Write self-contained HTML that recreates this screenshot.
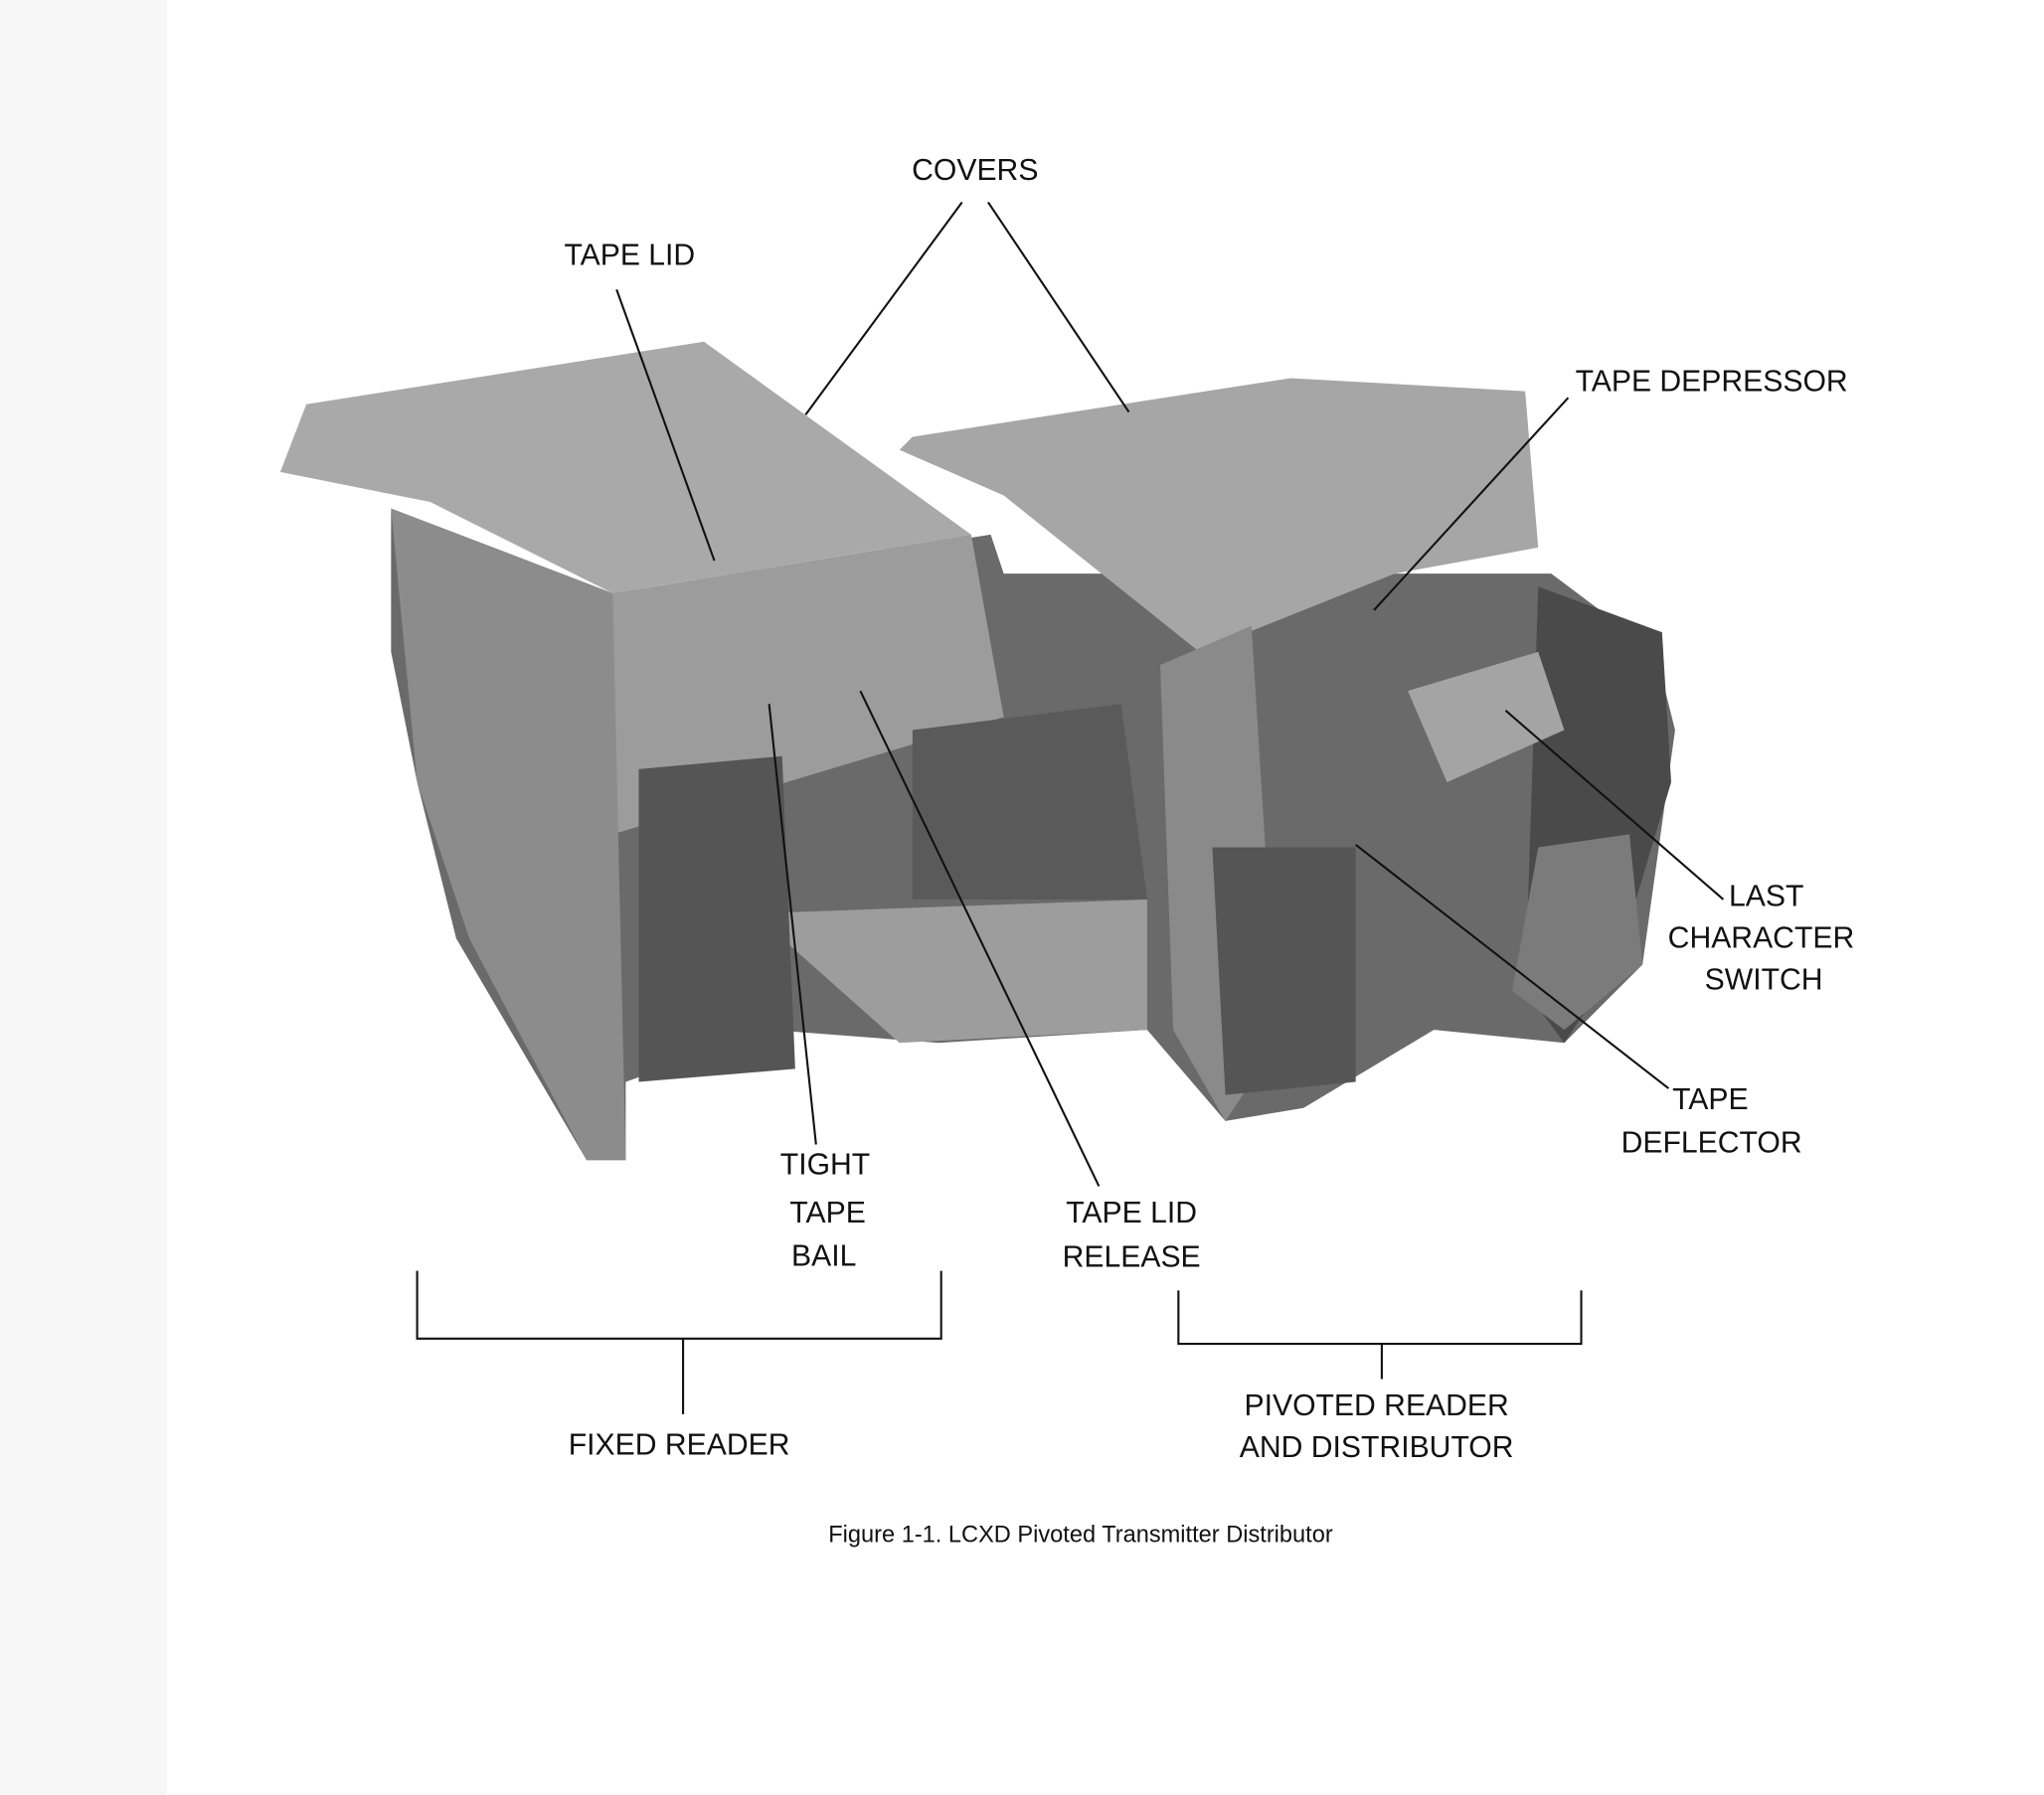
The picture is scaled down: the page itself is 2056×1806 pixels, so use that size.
<!DOCTYPE html>
<html><head><meta charset="utf-8"><style>
html,body{margin:0;padding:0;background:#fff;width:2056px;height:1806px;overflow:hidden}
svg{display:block}
text{font-family:"Liberation Sans",sans-serif;fill:#111;font-size:23px;text-anchor:middle}
</style></head><body>
<svg width="2056" height="1806" viewBox="0 0 1568 1377" xmlns="http://www.w3.org/2000/svg">
<rect width="1568" height="1377" fill="#fff"/>
<rect x="0" y="0" width="128" height="1377" fill="#f7f7f7"/>
<!-- photo -->
<g>
<polygon points="300,390 470,455 760,410 770,440 1190,440 1270,500 1285,560 1260,740 1200,800 1100,790 1000,850 940,860 880,790 720,800 590,790 480,830 480,890 450,890 350,720 320,600 300,500" fill="#6a6a6a"/>
<polygon points="1180,450 1275,485 1282,600 1240,740 1200,800 1170,760" fill="#4a4a4a"/>
<polygon points="215,362 235,310 540,262 745,410 470,455 330,385" fill="#a9a9a9"/>
<polygon points="440,460 745,410 770,550 470,640" fill="#9c9c9c"/>
<polygon points="300,390 470,455 480,890 450,890 360,720 320,600" fill="#8c8c8c"/>
<polygon points="690,345 700,335 990,290 1170,300 1180,420 1070,440 920,500 770,380" fill="#a6a6a6"/>
<polygon points="600,700 880,690 880,790 690,800 600,720" fill="#9d9d9d"/>
<polygon points="890,510 960,480 980,800 940,860 900,790" fill="#8a8a8a"/>
<polygon points="1080,530 1180,500 1200,560 1110,600" fill="#a4a4a4"/>
<polygon points="1180,650 1250,640 1260,740 1200,790 1160,760" fill="#7b7b7b"/>
<polygon points="490,590 600,580 610,820 490,830" fill="#555"/>
<polygon points="930,650 1040,650 1040,830 940,840" fill="#555"/>
<polygon points="700,560 860,540 880,690 700,690" fill="#5a5a5a"/>
</g>
<!-- leader lines -->
<g stroke="#111" stroke-width="1.6" fill="none">
<line x1="738" y1="155" x2="618" y2="318"/>
<line x1="758" y1="155" x2="866" y2="316"/>
<line x1="473" y1="222" x2="548" y2="430"/>
<line x1="1203" y1="305" x2="1054" y2="468"/>
<line x1="1322" y1="690" x2="1155" y2="545"/>
<line x1="1280" y1="835" x2="1040" y2="648"/>
<line x1="626" y1="878" x2="590" y2="540"/>
<line x1="843" y1="910" x2="660" y2="530"/>
<polyline points="320,975 320,1027 722,1027 722,975"/>
<line x1="524" y1="1027" x2="524" y2="1085"/>
<polyline points="904,990 904,1031 1213,1031 1213,990"/>
<line x1="1060" y1="1031" x2="1060" y2="1058"/>
</g>
<text x="748" y="138">COVERS</text>
<text x="483" y="203">TAPE LID</text>
<text x="1313" y="300">TAPE DEPRESSOR</text>
<text x="1355" y="695">LAST</text>
<text x="1351" y="727">CHARACTER</text>
<text x="1353" y="759">SWITCH</text>
<text x="1312" y="851">TAPE</text>
<text x="1313" y="884">DEFLECTOR</text>
<text x="633" y="901">TIGHT</text>
<text x="635" y="938">TAPE</text>
<text x="632" y="971">BAIL</text>
<text x="868" y="938">TAPE LID</text>
<text x="868" y="972">RELEASE</text>
<text x="521" y="1116">FIXED READER</text>
<text x="1056" y="1086">PIVOTED READER</text>
<text x="1056" y="1118">AND DISTRIBUTOR</text>
<text x="829" y="1183" style="font-size:18px">Figure 1-1.  LCXD Pivoted Transmitter Distributor</text>
</svg>
</body></html>
